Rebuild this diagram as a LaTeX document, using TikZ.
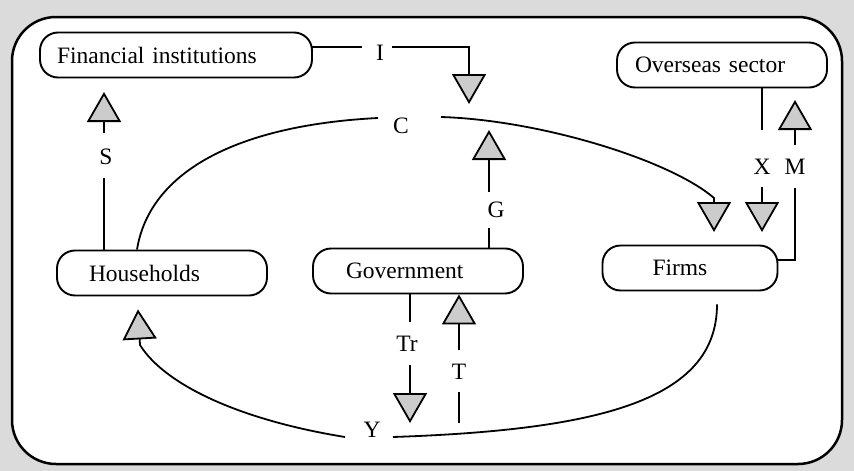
\documentclass[tikz,border=0pt]{standalone}
\usepackage{fontspec}
\setmainfont{Liberation Serif}
\usetikzlibrary{arrows.meta,calc}
\begin{document}
\begin{tikzpicture}[x=1pt,y=-1pt,
  box/.style={draw, line width=1.9pt, rounded corners=18pt, minimum height=45pt, align=left, inner ysep=0pt, font=\fontsize{23.5}{26}\selectfont},
  lbl/.style={inner sep=0pt, font=\fontsize{23.5}{26}\selectfont},
  flow/.style={line width=1.8pt},
  tri/.style={-{Triangle[width=34pt,length=30pt,fill=gray!40]}},
]
\useasboundingbox (0,0) rectangle (854,471);
\fill[gray!28] (0,0) rectangle (854,471);
\draw[line width=2.5pt, fill=white, rounded corners=44pt] (12,17) rectangle (842,464);

% boxes
\node[box, inner xsep=17pt, text width=238pt] (FI) at (176,55) {Financial institutions};
\node[box, inner xsep=18pt, text width=174pt] (OS) at (722,65) {Overseas sector};
\node[box, inner xsep=32pt, text width=146pt] (HH) at (162,273) {Households};
\node[box, inner xsep=33pt, text width=144pt] (GV) at (418,271) {Government};
\node[box, inner xsep=50pt, text width=75pt] (FM) at (690,268) {Firms};

% labels
\node[lbl] (I) at (380,53) {I};
\node[lbl] (C) at (401,126) {C};
\node[lbl] (S) at (106,157) {S};
\node[lbl] (G) at (496,210) {G};
\node[lbl] (X) at (762,167) {X};
\node[lbl] (M) at (795,167) {M};
\node[lbl] (Tr) at (407,344) {Tr};
\node[lbl] (T) at (459,372) {T};
\node[lbl] (Y) at (372,430) {Y};

% free ends
\coordinate (Cend) at (714,232);

% I
\draw[flow] ([xshift=-2pt,yshift=8pt]FI.east) -- ([xshift=-18pt,yshift=6pt]I.center);
\draw[flow,tri] ([xshift=12pt,yshift=6pt]I.center) -- ++(77,0) -- ++(0,57);

% C
\draw[flow] ([xshift=-25pt]HH.north) .. controls (150,170) and (240,125) .. ([xshift=-23pt,yshift=8pt]C.center);
\draw[flow,tri] ([xshift=40pt,yshift=9pt]C.center) .. controls (540,120) and (670,160) .. (714,198) -- (Cend);

% S
\draw[flow] ([xshift=-58pt]HH.north) -- ([xshift=-2pt,yshift=-21pt]S.center);
\draw[flow,tri] ([xshift=-2pt,yshift=24pt]S.center) -- ++(0,-41);

% G
\draw[flow] ([xshift=71pt]GV.north) -- ([xshift=-7pt,yshift=-18pt]G.center);
\draw[flow,tri] ([xshift=-7pt,yshift=18pt]G.center) -- ++(0,-62);

% X
\draw[flow] ([xshift=40pt]OS.south) -- ([yshift=37pt]X.center);
\draw[flow,tri] ([yshift=-20pt]X.center) -- ++(0,45);

% M
\draw[flow] ([yshift=8pt]FM.east) -| ([yshift=-21pt]M.center);
\draw[flow,tri] ([yshift=22pt]M.center) -- ++(0,-45);

% Tr
\draw[flow] ([xshift=-8pt]GV.south) -- ([xshift=3pt,yshift=22pt]Tr.center);
\draw[flow,tri] ([xshift=3pt,yshift=-21pt]Tr.center) -- ++(0,58);

% T
\draw[flow] ([yshift=-51pt]T.center) -- ([yshift=-20pt]T.center);
\draw[flow,tri] ([yshift=22pt]T.center) -- ([xshift=41pt]GV.south);

% Y
\draw[flow] ([xshift=27pt,yshift=-13pt]FM.south) .. controls (717,400) and (600,430) .. ([xshift=21pt,yshift=-7pt]Y.center);
\draw[flow,tri] ([xshift=-27pt,yshift=-7pt]Y.center) .. controls (240,420) and (165,385) .. (140,345) -- ([xshift=-24pt,yshift=-13pt]HH.south);
\end{tikzpicture}
\end{document}
